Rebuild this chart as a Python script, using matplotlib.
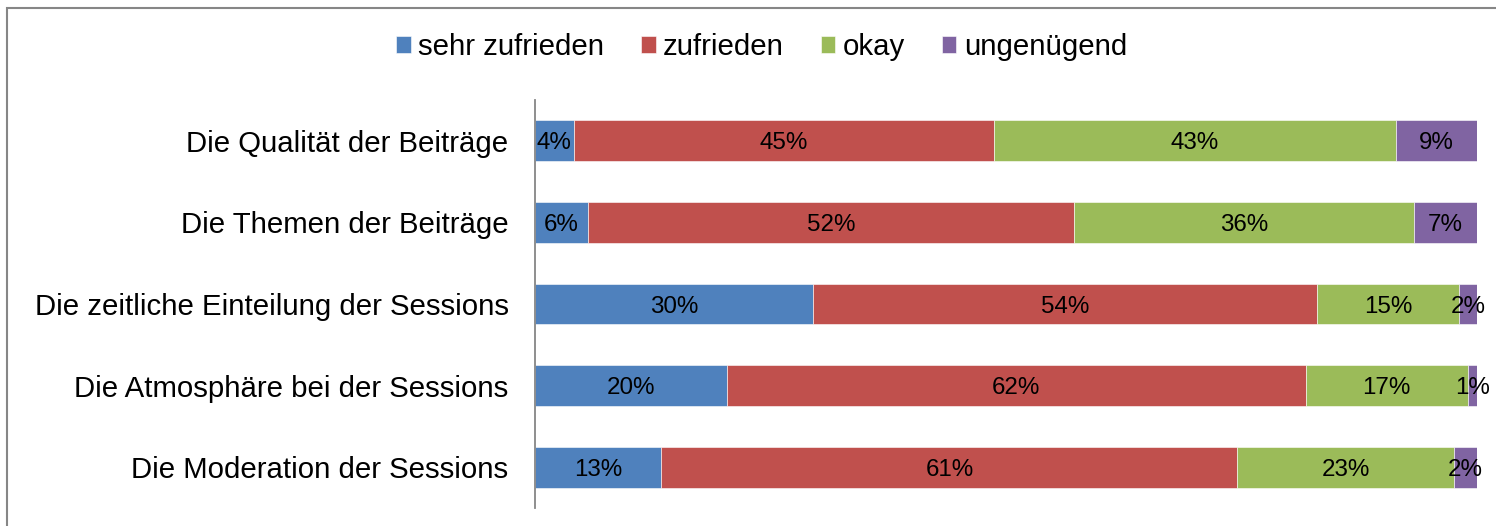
import numpy as np
import matplotlib
matplotlib.use("Agg")
import matplotlib.pyplot as plt
from matplotlib.patches import Rectangle

plt.rcParams['font.family'] = ['Liberation Sans', 'DejaVu Sans']

# categories (top to bottom)
categories = [
    "Die Qualität der Beiträge",
    "Die Themen der Beiträge",
    "Die zeitliche Einteilung der Sessions",
    "Die Atmosphäre bei der Sessions",
    "Die Moderation der Sessions",
]
# answer series, percent (estimated, labels are rounded)
series_names = ["sehr zufrieden", "zufrieden", "okay", "ungenügend"]
sehr_zufrieden = [4.1, 5.6, 29.5, 20.4, 13.4]
zufrieden = [44.6, 51.6, 53.5, 61.5, 61.1]
okay = [42.7, 36.1, 15.1, 17.2, 23.0]
ungenuegend = [8.6, 6.7, 1.9, 1.0, 2.4]
colors = ["#4F81BD", "#C0504D", "#9BBB59", "#8064A2"]

values = np.array([sehr_zufrieden, zufrieden, okay, ungenuegend], dtype=float)
# 100% stacked: normalise each row
shares = values / values.sum(axis=0)

fig = plt.figure(figsize=(14.96, 5.26), dpi=100)
ax = fig.add_axes([535 / 1496, 18 / 526, 942 / 1496, 408 / 526])

y = np.arange(len(categories))
left = np.zeros(len(categories))
for name, share, raw, color in zip(series_names, shares, values, colors):
    bars = ax.barh(y, share, left=left, height=0.5, color=color,
                   edgecolor="white", linewidth=0.4, label=name)
    # data labels
    for bar, v in zip(bars, raw):
        ax.text(bar.get_x() + bar.get_width() / 2, bar.get_y() + bar.get_height() / 2,
                "%.0f%%" % v, ha="center", va="center_baseline", fontsize=17.4,
                color="black")
    left += share

ax.set_xlim(0, 1)
ax.set_ylim(len(categories) - 0.5, -0.5)
ax.set_yticks(y)
ax.set_yticklabels(categories, fontsize=21.2)
ax.tick_params(axis="y", length=0, pad=19)
ax.set_xticks([])
for side in ["top", "right", "bottom"]:
    ax.spines[side].set_visible(False)
ax.spines["left"].set_color("#868686")
ax.spines["left"].set_linewidth(1.3)

# legend on top
handles, labels = ax.get_legend_handles_labels()
fig.legend(handles, labels, loc="center", bbox_to_anchor=(0.509, 1 - 47 / 526),
           ncol=4, frameon=False, fontsize=21.2, handlelength=0.5, handleheight=0.5,
           handletextpad=0.25, columnspacing=1.25)

# chart area border
fig.patches.append(Rectangle((6.5 / 1496, -0.1), 1.2, (526 - 8) / 526 + 0.1,
                             transform=fig.transFigure, fill=False,
                             edgecolor="#868686", linewidth=1.5))

fig.savefig("out.png", dpi=100)
